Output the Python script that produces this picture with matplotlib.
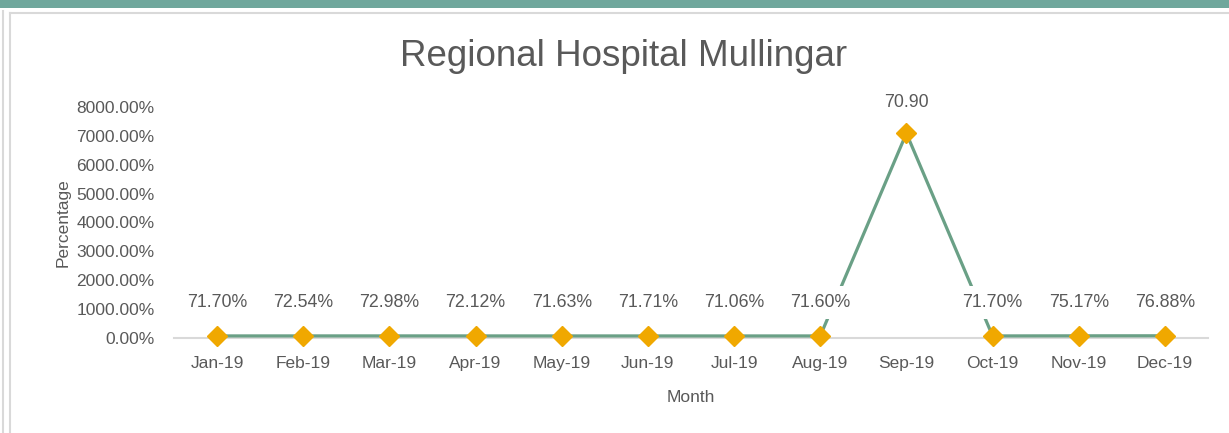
import matplotlib.pyplot as plt
from matplotlib.ticker import FuncFormatter
from matplotlib.patches import Rectangle
from matplotlib.lines import Line2D

months = ["Jan-19", "Feb-19", "Mar-19", "Apr-19", "May-19", "Jun-19",
          "Jul-19", "Aug-19", "Sep-19", "Oct-19", "Nov-19", "Dec-19"]
values = [0.7170, 0.7254, 0.7298, 0.7212, 0.7163, 0.7171,
          0.7106, 0.7160, 70.90, 0.7170, 0.7517, 0.7688]
labels = ["71.70%", "72.54%", "72.98%", "72.12%", "71.63%", "71.71%",
          "71.06%", "71.60%", "70.90", "71.70%", "75.17%", "76.88%"]
yticks = [0, 10, 20, 30, 40, 50, 60, 70, 80]

plt.rcParams['font.family'] = ['Liberation Sans', 'DejaVu Sans']
text_col = '#595959'
line_col = '#6aa086'
marker_col = '#f0a800'

fig = plt.figure(figsize=(12.29, 4.33), dpi=100)

# top banner and chart frame
fig.patches.append(Rectangle((0, 1 - 8 / 433), 1, 8 / 433, transform=fig.transFigure,
                             facecolor='#6fa79c', edgecolor='none'))
fig.lines.append(Line2D([3 / 1229, 3 / 1229], [0, 1 - 11 / 433], transform=fig.transFigure,
                        color='#d9d9d9', lw=1.5))
fig.lines.append(Line2D([10 / 1229, 10 / 1229], [0, 1 - 13 / 433], transform=fig.transFigure,
                        color='#d9d9d9', lw=1.5))
fig.lines.append(Line2D([10 / 1229, 1], [1 - 13 / 433, 1 - 13 / 433], transform=fig.transFigure,
                        color='#d9d9d9', lw=1.5))

ax = fig.add_axes([174 / 1229, 1 - 338 / 433, (1208 - 174) / 1229, (338 - 107) / 433])
x = list(range(len(months)))
ax.plot(x, values, color=line_col, lw=2.3, zorder=2)
ax.plot(x, values, linestyle='none', marker='D', markersize=10,
        color=marker_col, zorder=4, clip_on=False)

# data labels sit on white boxes that hide the line behind them
for xi, v, lab in zip(x, values, labels):
    off = 22 if v > 10 else 24
    ax.annotate(lab, (xi, v), xytext=(0, off), textcoords='offset points',
                ha='center', va='center', fontsize=12.8, color=text_col, zorder=3,
                bbox=dict(boxstyle='square,pad=0.45', facecolor='white', edgecolor='none'))

ax.set_xlim(-0.5, 11.5)
ax.set_ylim(0, 80)
ax.set_yticks(yticks)
ax.yaxis.set_major_formatter(FuncFormatter(lambda v, p: f"{v * 100:.2f}%"))
ax.set_xticks(x)
ax.set_xticklabels(months)
ax.tick_params(axis='both', length=0, labelsize=12.5, labelcolor=text_col)
ax.tick_params(axis='x', pad=13)
ax.tick_params(axis='y', pad=14)
for s in ['top', 'right', 'left']:
    ax.spines[s].set_visible(False)
ax.spines['bottom'].set_color('#d9d9d9')
ax.spines['bottom'].set_linewidth(1.5)
ax.spines['bottom'].set_zorder(1)

ax.set_xlabel("Month", fontsize=12.5, color=text_col, labelpad=14)
ax.set_ylabel("Percentage", fontsize=12.5, color=text_col, labelpad=4)
fig.text(624 / 1229, 1 - 56 / 433, "Regional Hospital Mullingar", ha='center', va='center',
         fontsize=26.5, color=text_col)

fig.savefig("out.png", dpi=100)
